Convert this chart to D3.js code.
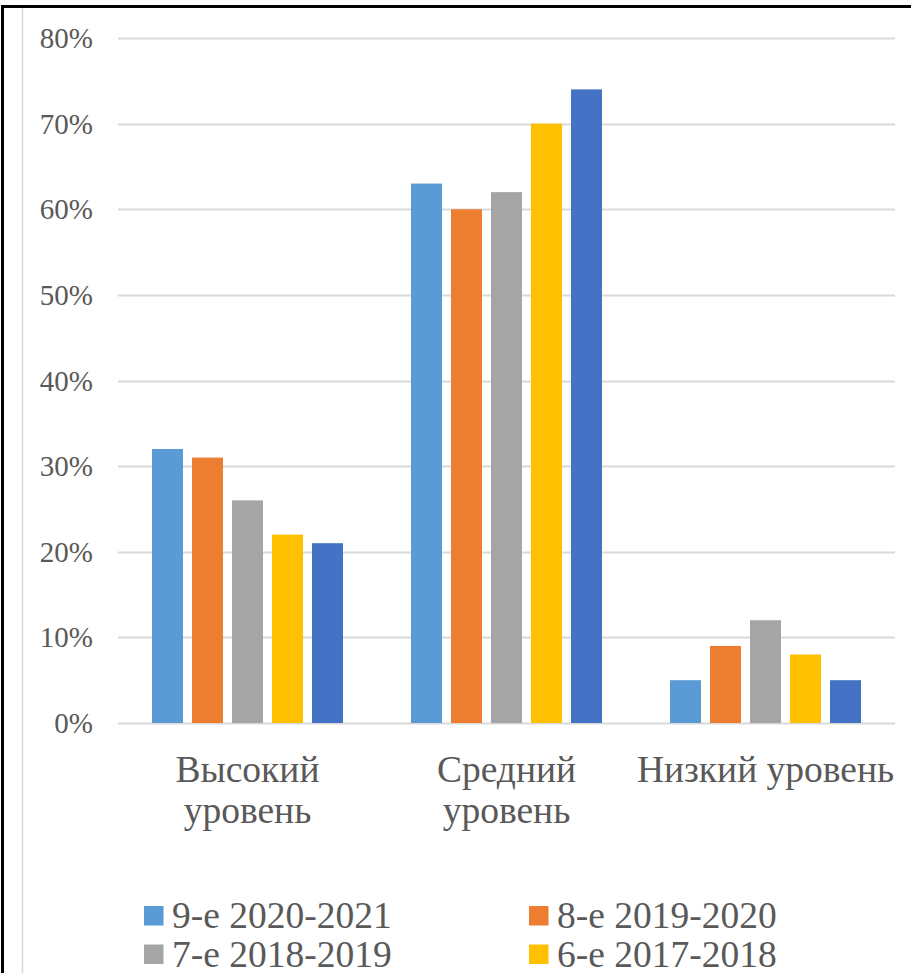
<!DOCTYPE html>
<html>
<head>
<meta charset="utf-8">
<script src="https://cdn.jsdelivr.net/npm/d3@7"></script>
<style>
  body { margin: 0; background: #fff; }
</style>
</head>
<body>
<div id="chart"></div>
<script>
'use strict';

var categories = [['Высокий', 'уровень'], ['Средний', 'уровень'], ['Низкий уровень']];
var seriesNames = ['9-е 2020-2021', '8-е 2019-2020', '7-е 2018-2019', '6-е 2017-2018', '5-е 2016-2017'];
var seriesColors = ['#5B9BD5', '#ED7D31', '#A5A5A5', '#FFC000', '#4472C4'];
// values per series, in category order
var values = [
  [32, 63, 5],
  [31, 60, 9],
  [26, 62, 12],
  [22, 70, 8],
  [21, 74, 5]
];
var yTicks = [0, 10, 20, 30, 40, 50, 60, 70, 80];

function render() {
  var width = 911, height = 973;
  var left = 118, right = 895, top = 38, bottom = 723;
  var font = 'Liberation Serif';

  var svg = d3.select('#chart').append('svg')
    .attr('width', width)
    .attr('height', height)
    .style('display', 'block')
    .attr('font-family', font);

  // page frame
  svg.append('line').attr('x1', 2.5).attr('x2', 2.5).attr('y1', 5).attr('y2', height)
    .attr('stroke', '#000').attr('stroke-width', 3);
  svg.append('line').attr('x1', 1).attr('x2', width).attr('y1', 6.5).attr('y2', 6.5)
    .attr('stroke', '#000').attr('stroke-width', 3);
  svg.append('line').attr('x1', 22.5).attr('x2', 22.5).attr('y1', 8).attr('y2', height)
    .attr('stroke', '#d9d9d9').attr('stroke-width', 1.5);

  var y = d3.scaleLinear().domain([0, 80]).range([bottom, top]);
  var x0 = d3.scaleBand().domain(d3.range(categories.length)).range([left, right]);
  var groupW = 191;
  var x1 = d3.scaleBand().domain(d3.range(seriesNames.length))
    .range([0, groupW]).paddingInner(0.225);

  // gridlines
  svg.append('g').selectAll('line').data(yTicks).enter().append('line')
    .attr('x1', left).attr('x2', right)
    .attr('y1', function(d) { return Math.round(y(d)) + 0.5; })
    .attr('y2', function(d) { return Math.round(y(d)) + 0.5; })
    .attr('stroke', '#d9d9d9').attr('stroke-width', 2);

  // y labels
  svg.append('g').selectAll('text').data(yTicks).enter().append('text')
    .attr('x', 93).attr('y', function(d) { return y(d) + 10; })
    .attr('text-anchor', 'end')
    .attr('font-family', font)
    .attr('fill', '#595959').attr('font-size', 29)
    .text(function(d) { return d + '%'; });

  // bars
  seriesNames.forEach(function(name, s) {
    svg.append('g').selectAll('rect').data(values[s]).enter().append('rect')
      .attr('x', function(d, i) { return x0(i) + (x0.bandwidth() - groupW) / 2 + x1(s); })
      .attr('width', x1.bandwidth())
      .attr('y', function(d) { return y(d); })
      .attr('height', function(d) { return bottom - y(d); })
      .attr('fill', seriesColors[s]);
  });

  // category labels
  categories.forEach(function(lines, i) {
    var t = svg.append('text')
      .attr('x', x0(i) + x0.bandwidth() / 2)
      .attr('text-anchor', 'middle')
      .attr('font-family', font)
      .attr('fill', '#595959').attr('font-size', 37.5);
    lines.forEach(function(l, k) {
      t.append('tspan').attr('x', x0(i) + x0.bandwidth() / 2)
        .attr('y', 782 + k * 41).text(l);
    });
  });

  // legend (third row falls below the visible page, as in the original)
  var legend = svg.append('g');
  seriesNames.forEach(function(name, s) {
    var col = s % 2, row = Math.floor(s / 2);
    var lx = col === 0 ? 144 : 529;
    var ly = 906 + row * 38.5;
    legend.append('rect').attr('x', lx).attr('y', ly).attr('width', 19.5).attr('height', 19.5)
      .attr('fill', seriesColors[s]);
    legend.append('text').attr('x', lx + 28).attr('y', ly + 22)
      .attr('font-family', font)
      .attr('fill', '#595959').attr('font-size', 37.5).text(name);
  });
}

render();
</script>
</body>
</html>
